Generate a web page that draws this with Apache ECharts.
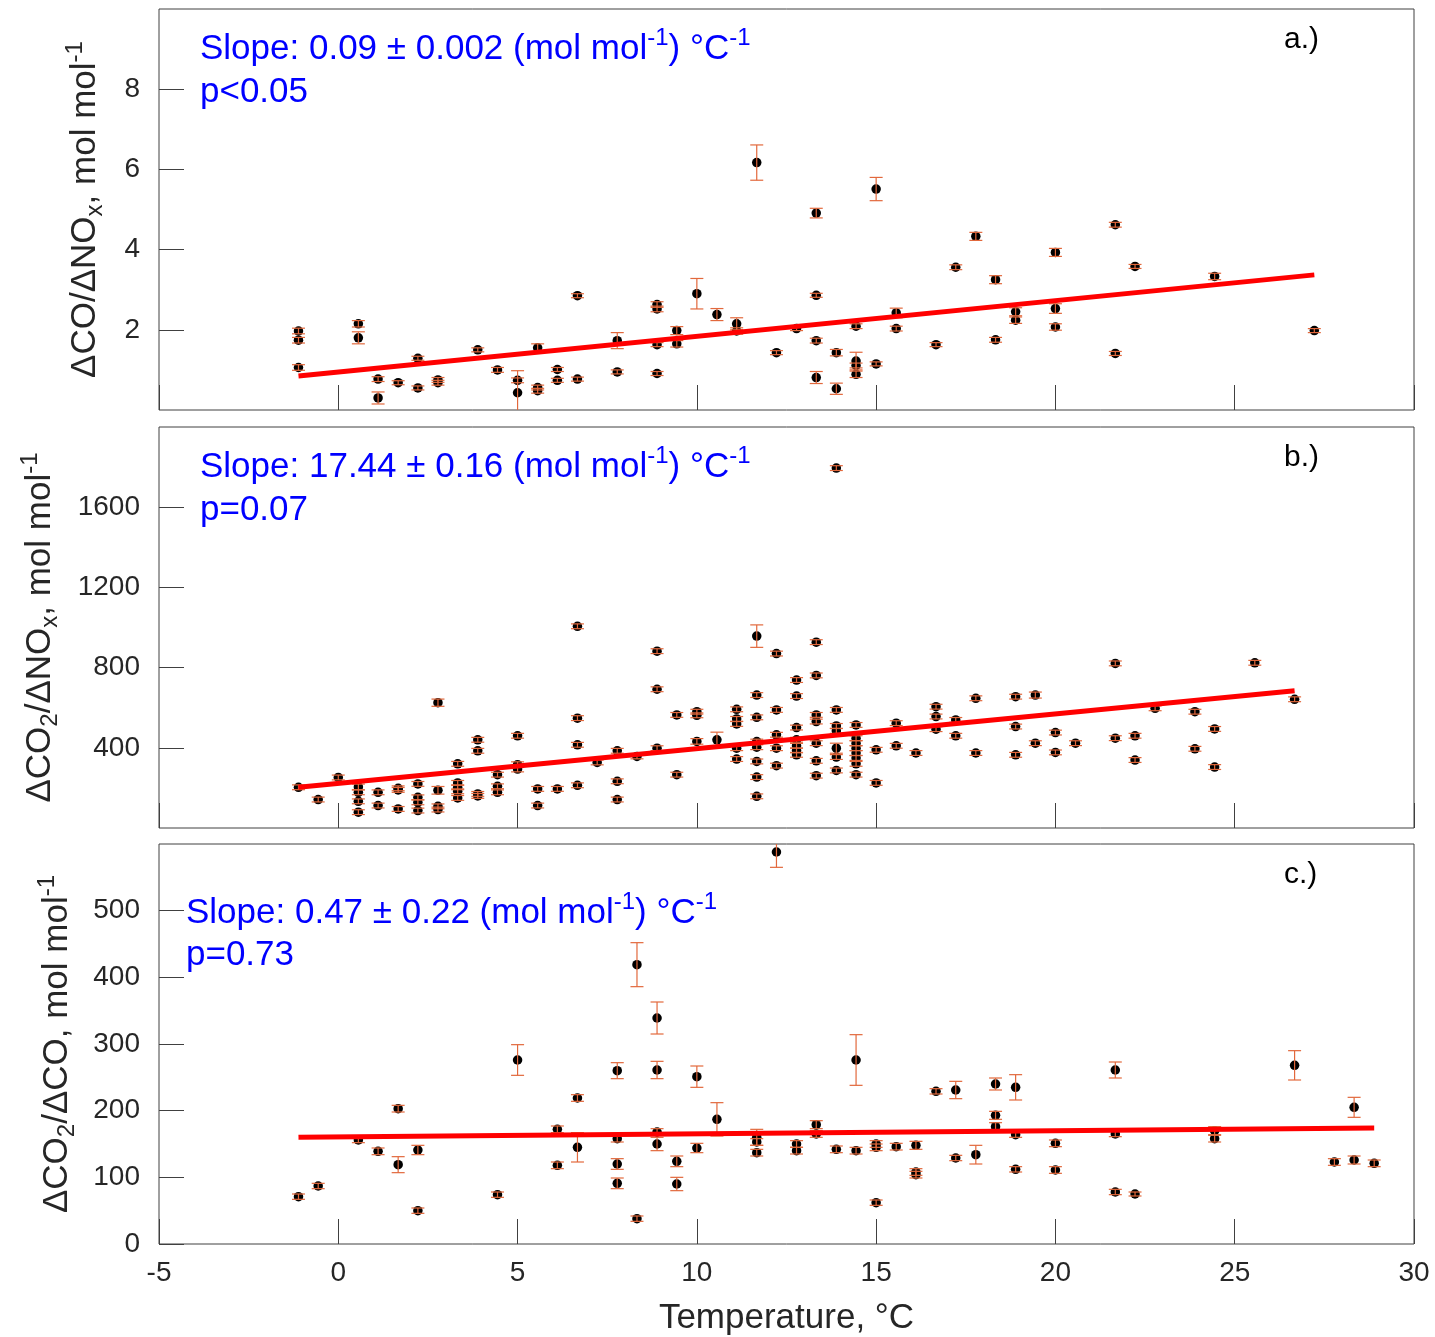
<!DOCTYPE html>
<html>
<head>
<meta charset="utf-8">
<script src="https://cdn.jsdelivr.net/npm/echarts@6/dist/echarts.min.js"></script>
<style>
html,body{margin:0;padding:0;background:#fff;}
#chart{width:1435px;height:1337px;}
</style>
</head>
<body>
<div id="chart"></div>
<script>
// ---------------- DATA ----------------
const xTickValues = [-5, 0, 5, 10, 15, 20, 25, 30];

// [temperature °C, ratio, error]
const panelAPoints = [
  [-1.11,1.97,0.07],[-1.11,1.74,0.07],[-1.11,1.06,0.07],
  [0.56,2.15,0.08],[0.56,1.80,0.15],
  [1.11,0.77,0.06],[1.11,0.30,0.15],
  [1.67,0.68,0.05],
  [2.22,1.29,0.05],[2.22,0.55,0.05],
  [2.78,0.75,0.06],[2.78,0.68,0.06],
  [3.89,1.50,0.05],
  [4.44,1.00,0.06],
  [5.00,0.74,0.06],[5.00,0.43,0.55],
  [5.56,1.55,0.10],[5.56,0.56,0.06],[5.56,0.48,0.06],
  [6.11,1.01,0.05],[6.11,0.74,0.05],
  [6.67,2.85,0.05],[6.67,0.77,0.05],
  [7.78,1.73,0.20],[7.78,0.95,0.05],
  [8.89,2.63,0.07],[8.89,2.52,0.07],[8.89,1.63,0.05],[8.89,0.91,0.05],
  [9.44,1.98,0.10],[9.44,1.65,0.08],
  [10.00,2.90,0.38],
  [10.56,2.38,0.15],
  [11.11,2.15,0.15],[11.11,1.97,0.08],
  [11.67,6.17,0.44],
  [12.22,1.43,0.05],
  [12.78,2.03,0.05],
  [13.33,4.91,0.12],[13.33,2.86,0.05],[13.33,1.73,0.06],[13.33,0.81,0.15],
  [13.89,1.43,0.08],[13.89,0.53,0.14],
  [14.44,2.09,0.06],[14.44,1.22,0.22],[14.44,1.11,0.06],[14.44,0.89,0.08],
  [15.00,5.51,0.29],[15.00,1.15,0.05],
  [15.56,2.42,0.12],[15.56,2.03,0.06],
  [16.67,1.63,0.05],
  [17.22,3.56,0.06],
  [17.78,4.33,0.10],
  [18.33,3.25,0.10],[18.33,1.75,0.06],
  [18.89,2.45,0.10],[18.89,2.24,0.08],
  [20.00,3.93,0.10],[20.00,2.53,0.12],[20.00,2.07,0.08],
  [21.67,4.62,0.06],[21.67,1.41,0.05],
  [22.22,3.58,0.05],
  [24.44,3.33,0.08],
  [27.22,1.98,0.05]
];

const panelBPoints = [
  [-1.11,203,12],[-0.56,142,12],[0,252,12],
  [0.56,205,14],[0.56,178,12],[0.56,133,12],[0.56,79,12],
  [1.11,178,12],[1.11,112,12],
  [1.67,198,12],[1.67,190,12],[1.67,95,12],
  [2.22,220,12],[2.22,153,12],[2.22,128,12],[2.22,87,12],
  [2.78,625,18],[2.78,188,19],[2.78,108,12],[2.78,92,12],
  [3.33,320,12],[3.33,225,12],[3.33,203,12],[3.33,183,12],[3.33,150,12],
  [3.89,440,12],[3.89,385,12],[3.89,170,12],[3.89,160,12],
  [4.44,266,12],[4.44,208,12],[4.44,178,12],
  [5.00,460,12],[5.00,316,14],[5.00,294,14],
  [5.56,195,12],[5.56,112,12],
  [6.11,195,12],
  [6.67,1006,12],[6.67,548,12],[6.67,415,12],[6.67,213,12],
  [7.22,327,12],
  [7.78,385,12],[7.78,233,12],[7.78,142,12],
  [8.33,357,12],
  [8.89,882,12],[8.89,692,12],[8.89,398,12],
  [9.44,564,12],[9.44,266,12],
  [10.00,580,12],[10.00,562,12],[10.00,432,14],
  [10.56,440,38],
  [11.11,592,12],[11.11,544,12],[11.11,519,12],[11.11,398,12],[11.11,344,12],
  [11.67,957,56],[11.67,663,12],[11.67,552,12],[11.67,431,12],[11.67,403,12],[11.67,332,12],[11.67,254,12],[11.67,158,12],
  [12.22,870,12],[12.22,589,12],[12.22,465,12],[12.22,398,12],[12.22,311,12],
  [12.78,738,12],[12.78,658,12],[12.78,501,12],[12.78,440,12],[12.78,410,12],[12.78,387,12],[12.78,365,12],
  [13.33,927,12],[13.33,761,12],[13.33,564,12],[13.33,531,12],[13.33,423,12],[13.33,335,12],[13.33,261,12],
  [13.89,1795,12],[13.89,589,12],[13.89,509,12],[13.89,484,12],[13.89,398,25],[13.89,354,12],[13.89,287,12],
  [14.44,514,12],[14.44,448,12],[14.44,423,12],[14.44,398,12],[14.44,374,12],[14.44,349,12],[14.44,320,12],[14.44,266,12],
  [15.00,390,12],[15.00,225,12],
  [15.56,523,12],[15.56,410,12],
  [16.11,374,12],
  [16.67,605,12],[16.67,556,12],[16.67,493,12],
  [17.22,539,12],[17.22,460,12],
  [17.78,647,12],[17.78,374,12],
  [18.89,655,12],[18.89,506,12],[18.89,365,12],
  [19.44,663,15],[19.44,423,12],
  [20.00,476,12],[20.00,377,12],
  [20.56,423,12],
  [21.67,821,12],[21.67,448,12],
  [22.22,460,12],[22.22,339,12],
  [22.78,597,12],
  [23.89,580,12],[23.89,395,12],
  [24.44,494,12],[24.44,304,12],
  [25.56,824,12],
  [26.67,642,12]
];

const panelCPoints = [
  [-1.11,71,4],[-0.56,87,4],[0.56,156,4],[1.11,139,5],
  [1.67,203,5],[1.67,119,12],
  [2.22,141,7],[2.22,50,4],
  [4.44,74,4],
  [5.00,276,23],
  [6.11,172,5],[6.11,118,5],
  [6.67,219,5],[6.67,145,22],
  [7.78,260,12],[7.78,158,5],[7.78,120,8],[7.78,91,8],
  [8.33,419,33],[8.33,38,4],
  [8.89,339,24],[8.89,261,13],[8.89,168,5],[8.89,150,10],
  [9.44,124,8],[9.44,90,10],
  [10.00,251,16],[10.00,144,7],
  [10.56,187,25],
  [11.67,160,12],[11.67,153,5],[11.67,137,5],
  [12.22,588,23],
  [12.78,150,5],[12.78,140,5],
  [13.33,179,6],[13.33,165,5],
  [13.89,142,5],
  [14.44,276,38],[14.44,140,5],
  [15.00,150,5],[15.00,145,5],[15.00,62,4],
  [15.56,146,5],
  [16.11,148,6],[16.11,108,5],[16.11,104,5],
  [16.67,229,4],
  [17.22,231,13],[17.22,129,4],
  [17.78,134,14],
  [18.33,240,9],[18.33,193,6],[18.33,176,6],
  [18.89,235,19],[18.89,164,4],[18.89,112,4],
  [20.00,151,5],[20.00,111,5],
  [21.67,261,12],[21.67,165,4],[21.67,78,4],
  [22.22,75,3],
  [24.44,170,6],[24.44,158,5],
  [26.67,268,22],
  [27.78,123,5],
  [28.33,205,15],[28.33,126,6],
  [28.89,121,5]
];

// regression line end points
const fitA = [[-1.11,0.85],[27.22,3.37]];
const fitB = [[-1.11,203],[26.67,685]];
const fitC = [[-1.11,160],[28.89,174]];

const yRangeA = [0, 10, 2];
const yRangeB = [0, 2000, 400];
const yRangeC = [0, 600, 100];

const slopeTexts = ['0.09 \u00B1 0.002', '17.44 \u00B1 0.16', '0.47 \u00B1 0.22'];
const pTexts = ['p<0.05', 'p=0.07', 'p=0.73'];
const panelLetters = ['a.)', 'b.)', 'c.)'];

// ---------------- CHART ----------------
const FONT = 'Liberation Sans, Arial, Helvetica, sans-serif';
const AXIS_COLOR = '#404040';
const TEXT_COLOR = '#262626';
const ERR_COLOR = '#E2683C';
const BLUE = '#0000FF';

const grids = [
  {left:159, top:9,   width:1255, height:401},
  {left:159, top:427, width:1255, height:401},
  {left:159, top:844, width:1255, height:402}
];

const nameRich = {
  t:   {fontFamily:FONT, fontSize:35, lineHeight:44, color:TEXT_COLOR},
  sub: {fontFamily:FONT, fontSize:24, lineHeight:24, verticalAlign:'bottom', color:TEXT_COLOR},
  sup: {fontFamily:FONT, fontSize:24, lineHeight:24, verticalAlign:'top', color:TEXT_COLOR}
};
const annRich = {
  t:   {fontFamily:FONT, fontSize:35, lineHeight:46, fill:BLUE, color:BLUE},
  sup: {fontFamily:FONT, fontSize:24, lineHeight:24, verticalAlign:'top', fill:BLUE, color:BLUE}
};

const yNames = [
  '{t|\u0394CO/\u0394NO}{sub|x}{t|, mol mol}{sup|-1}',
  '{t|\u0394CO}{sub|2}{t|/\u0394NO}{sub|x}{t|, mol mol}{sup|-1}',
  '{t|\u0394CO}{sub|2}{t|/\u0394CO, mol mol}{sup|-1}'
];
const yNameGaps = [52, 97, 80];
const yRanges = [yRangeA, yRangeB, yRangeC];

const xAxes = grids.map((g, i) => ({
  type:'value', gridIndex:i, min:xTickValues[0], max:xTickValues[xTickValues.length-1],
  interval:5,
  axisLine:{show:false, onZero:false},
  axisTick:{show:true, inside:true, length:25, lineStyle:{color:AXIS_COLOR, width:1}},
  splitLine:{show:false},
  axisLabel:{show:i===2, fontFamily:FONT, fontSize:28, color:TEXT_COLOR, margin:15,
             formatter: v => String(v)},
  name: i===2 ? 'Temperature, \u00B0C' : '',
  nameLocation:'middle', nameGap:57,
  nameTextStyle:{fontFamily:FONT, fontSize:35, color:TEXT_COLOR}
}));

const yAxes = grids.map((g, i) => ({
  type:'value', gridIndex:i, min:yRanges[i][0], max:yRanges[i][1], interval:yRanges[i][2],
  axisLine:{show:false, onZero:false},
  axisTick:{show:true, inside:true, length:25, lineStyle:{color:AXIS_COLOR, width:1}},
  splitLine:{show:false},
  axisLabel:{fontFamily:FONT, fontSize:28, color:TEXT_COLOR, margin:19,
             showMinLabel: i===2, showMaxLabel:false, formatter: v => String(v)},
  name: yNames[i], nameLocation:'middle', nameGap:yNameGaps[i],
  nameTextStyle:{fontFamily:FONT, fontSize:35, color:TEXT_COLOR, rich:nameRich}
}));

function errRender(params, api) {
  const x = api.value(0), y = api.value(1), e = api.value(2);
  const top = api.coord([x, y + e]);
  const bot = api.coord([x, y - e]);
  const w = 6.5;
  const style = {stroke:ERR_COLOR, lineWidth:1.2, fill:null};
  return {type:'group', children:[
    {type:'line', shape:{x1:top[0], y1:top[1], x2:bot[0], y2:bot[1]}, style:style},
    {type:'line', shape:{x1:top[0]-w, y1:top[1], x2:top[0]+w, y2:top[1]}, style:style},
    {type:'line', shape:{x1:bot[0]-w, y1:bot[1], x2:bot[0]+w, y2:bot[1]}, style:style}
  ]};
}

const pointSets = [panelAPoints, panelBPoints, panelCPoints];
const fits = [fitA, fitB, fitC];
const series = [];
pointSets.forEach((pts, i) => {
  series.push({
    type:'scatter', xAxisIndex:i, yAxisIndex:i, data:pts.map(p => [p[0], p[1]]),
    symbol:'circle', symbolSize:9.5, itemStyle:{color:'#000', opacity:1}, z:2, silent:true
  });
  series.push({
    type:'custom', xAxisIndex:i, yAxisIndex:i, data:pts, renderItem:errRender,
    encode:{x:0, y:1}, clip:true, z:3, silent:true
  });
  series.push({
    type:'line', xAxisIndex:i, yAxisIndex:i, data:fits[i], showSymbol:false,
    lineStyle:{color:'#FF0000', width:5}, z:4, silent:true
  });
});

const annLeft = [200, 200, 186];
const graphics = [];
grids.forEach((g, i) => {
  graphics.push({
    type:'text', x:annLeft[i], y:g.top + (i===2 ? 69 : 40), z:10,
    style:{text:'{t|Slope: ' + slopeTexts[i] + ' (mol mol}{sup|-1}{t|) \u00B0C}{sup|-1}',
           rich:annRich, fill:BLUE, align:'left', verticalAlign:'middle'}
  });
  graphics.push({
    type:'text', x:annLeft[i], y:g.top + (i===2 ? 111 : 83), z:10,
    style:{text:pTexts[i], fill:BLUE, font:'35px ' + FONT, align:'left', verticalAlign:'middle'}
  });
  graphics.push({
    type:'text', x:1284, y:g.top + 31, z:10,
    style:{text:panelLetters[i], fill:'#000', font:'30px ' + FONT, align:'left', verticalAlign:'middle'}
  });
});

const chart = echarts.init(document.getElementById('chart'), null, {renderer:'canvas'});
chart.setOption({
  animation:false,
  backgroundColor:'#fff',
  grid: grids.map(g => Object.assign({show:true, borderColor:AXIS_COLOR, borderWidth:1, backgroundColor:'transparent'}, g)),
  xAxis:xAxes,
  yAxis:yAxes,
  series:series,
  graphic:graphics
});
</script>
</body>
</html>
